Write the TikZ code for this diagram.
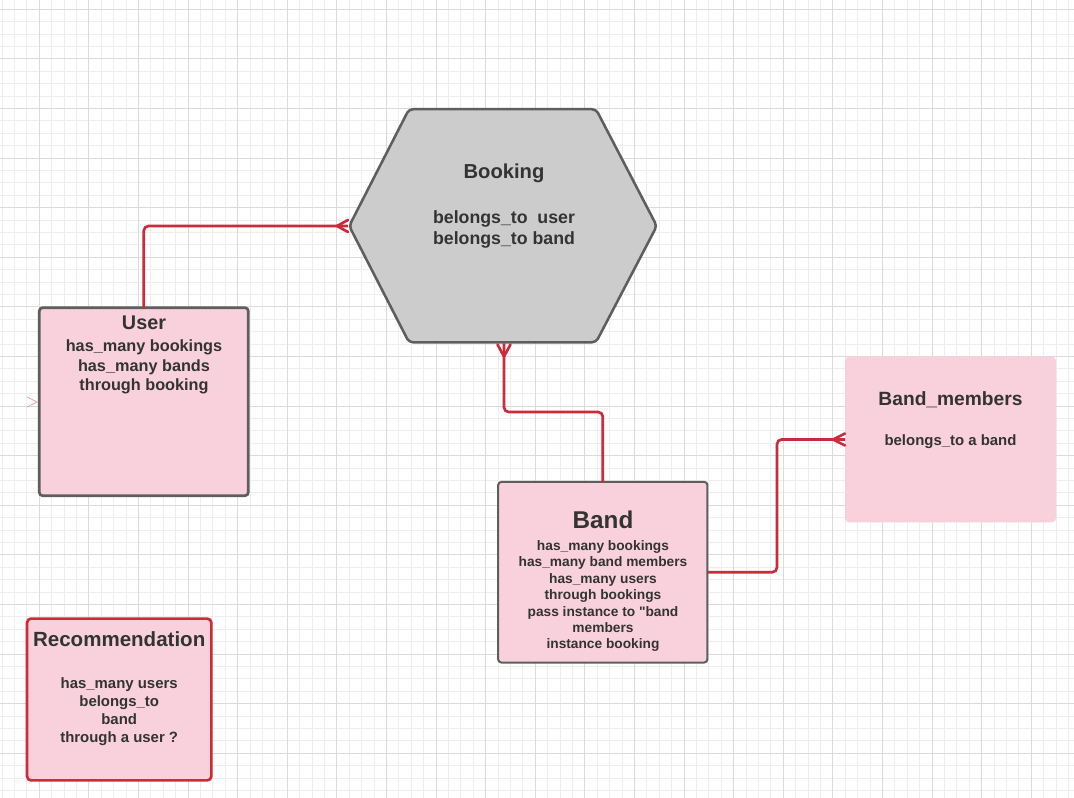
\documentclass[tikz,border=0pt]{standalone}
\usepackage{fontspec}
\setmainfont{Liberation Sans}[Ligatures=TeXOff]
\usetikzlibrary{calc}
\definecolor{pinkfill}{RGB}{249,209,220}
\definecolor{boxgray}{RGB}{94,94,94}
\definecolor{hexfill}{RGB}{204,204,204}
\definecolor{relred}{RGB}{203,43,58}
\definecolor{txtgray}{RGB}{51,51,51}
\definecolor{gridminorc}{RGB}{238,238,238}
\definecolor{gridmajorc}{RGB}{219,219,219}
\definecolor{faintpink}{RGB}{236,160,175}
\newcommand\setfs[2]{\fontsize{#1}{#2}\selectfont\bfseries}
\begin{document}
\begin{tikzpicture}[x=0.75pt,y=-0.75pt,
  minorline/.style={draw=gridminorc,line width=0.75pt},
  majorline/.style={draw=gridmajorc,line width=0.8pt},
  entity/.style={rectangle,draw=boxgray,fill=pinkfill,line width=2pt,rounded corners=2.5pt,inner sep=0pt,outer sep=0pt},
  softentity/.style={rectangle,fill=pinkfill,rounded corners=3pt,inner sep=0pt,outer sep=0pt},
  recentity/.style={rectangle,draw=relred,fill=pinkfill,line width=2pt,rounded corners=3pt,inner sep=0pt,outer sep=0pt},
  hexshape/.style={draw=boxgray,fill=hexfill,line width=1.9pt,rounded corners=3pt},
  txt/.style={text=txtgray,inner sep=0pt,outer sep=0pt,anchor=base},
  relation/.style={draw=relred,line width=2pt,rounded corners=3.5pt},
  crowfoot/.style={draw=relred,line width=2pt,line cap=round,line join=round},
  stray/.style={draw=faintpink,line width=0.6pt}
]
% background and bounding box
\fill[white] (0,0) rectangle (1074,798);
\useasboundingbox (0,0) rectangle (1074,798);
% grid
\foreach \gx in {2.1,14.5,...,1074} \draw[minorline] (\gx,0) -- (\gx,798);
\foreach \gy in {-3.1,9.3,...,798} \draw[minorline] (0,\gy) -- (1074,\gy);
\foreach \gx in {39.3,88.9,...,1074} \draw[majorline] (\gx,0) -- (\gx,798);
\foreach \gy in {9.3,58.9,...,798} \draw[majorline] (0,\gy) -- (1074,\gy);

% Booking hexagon
\draw[hexshape] (409,109.2) -- (596,109.2) -- (656.8,226) -- (596,342.3) -- (409,342.3) -- (349.2,226) -- cycle;
\coordinate (bkL) at (348,226);
\coordinate (bkB) at (504,343.5);
\node[txt] (bookingTitle) at (504,179) {\setfs{15.15}{18}Booking};
\node[txt] (bookingL1) at (504,223.5) {\setfs{13.3}{16}belongs\_to\ \ user};
\node[txt] (bookingL2) at (504,244.5) {\setfs{13.3}{16}belongs\_to band};

% User
\node[entity,minimum width=156.75pt,minimum height=141pt] (user) at (143.8,401.7) {};
\node[txt] (userTitle) at (144,330) {\setfs{14.85}{18}User};
\node[txt] (userL1) at (144,351.5) {\setfs{12.2}{14}has\_many bookings};
\node[txt] (userL2) at (144,371.5) {\setfs{12.2}{14}has\_many bands};
\node[txt] (userL3) at (144,390.5) {\setfs{12.2}{14}through booking};
\draw[stray] (27,397) -- (37,402) -- (27,407);

% Band
\node[entity,line width=1.5pt,minimum width=157pt,minimum height=135.5pt] (band) at (602.8,572.2) {};
\node[txt] (bandTitle) at (603,528.3) {\setfs{18.2}{21}Band};
\node[txt] (bandL1) at (603,550.5) {\setfs{10.3}{12}has\_many bookings};
\node[txt] (bandL2) at (603,566.9) {\setfs{10.3}{12}has\_many band members};
\node[txt] (bandL3) at (603,583.3) {\setfs{10.3}{12}has\_many users};
\node[txt] (bandL4) at (603,599.7) {\setfs{10.3}{12}through bookings};
\node[txt] (bandL5) at (603,616.1) {\setfs{10.3}{12}pass instance to "band};
\node[txt] (bandL6) at (603,632.5) {\setfs{10.3}{12}members};
\node[txt] (bandL7) at (603,648.9) {\setfs{10.3}{12}instance booking};

% Band_members
\node[softentity,minimum width=158.25pt,minimum height=124.2pt] (bm) at (950.5,439.5) {};
\node[txt] (bmTitle) at (950.5,405.7) {\setfs{14.4}{17}Band\_members};
\node[txt] (bmL1) at (950.5,445.3) {\setfs{11.2}{13}belongs\_to a band};

% Recommendation
\node[recentity,minimum width=138.2pt,minimum height=121.3pt] (rec) at (119.2,699.5) {};
\node[txt] (recTitle) at (119.2,646.7) {\setfs{15.4}{18}Recommendation};
\node[txt] (recL1) at (119.2,688.3) {\setfs{11.2}{13}has\_many users};
\node[txt] (recL2) at (119.2,706.4) {\setfs{11.2}{13}belongs\_to};
\node[txt] (recL3) at (119.2,724.5) {\setfs{11.2}{13}band};
\node[txt] (recL4) at (119.2,742.6) {\setfs{11.2}{13}through a user ?};

% connectors
\coordinate (j1) at (504,412);
\coordinate (j2) at (777,500);
\draw[relation] (user.north) |- (bkL);
\draw[crowfoot] ($(bkL)+(-11,0)$) -- ($(bkL)+(0,-6)$);
\draw[crowfoot] ($(bkL)+(-11,0)$) -- ($(bkL)+(0,6)$);

\draw[relation] (band.north) |- (j1) -- (bkB);
\draw[crowfoot] ($(bkB)+(0,13)$) -- ($(bkB)+(-6.5,1)$);
\draw[crowfoot] ($(bkB)+(0,13)$) -- ($(bkB)+(6.5,1)$);

\draw[relation] (band.east) -| (j2) |- (bm.west);
\draw[crowfoot] ($(bm.west)+(-12,0)$) -- ($(bm.west)+(0,-6)$);
\draw[crowfoot] ($(bm.west)+(-12,0)$) -- ($(bm.west)+(0,6)$);
\end{tikzpicture}
\end{document}
